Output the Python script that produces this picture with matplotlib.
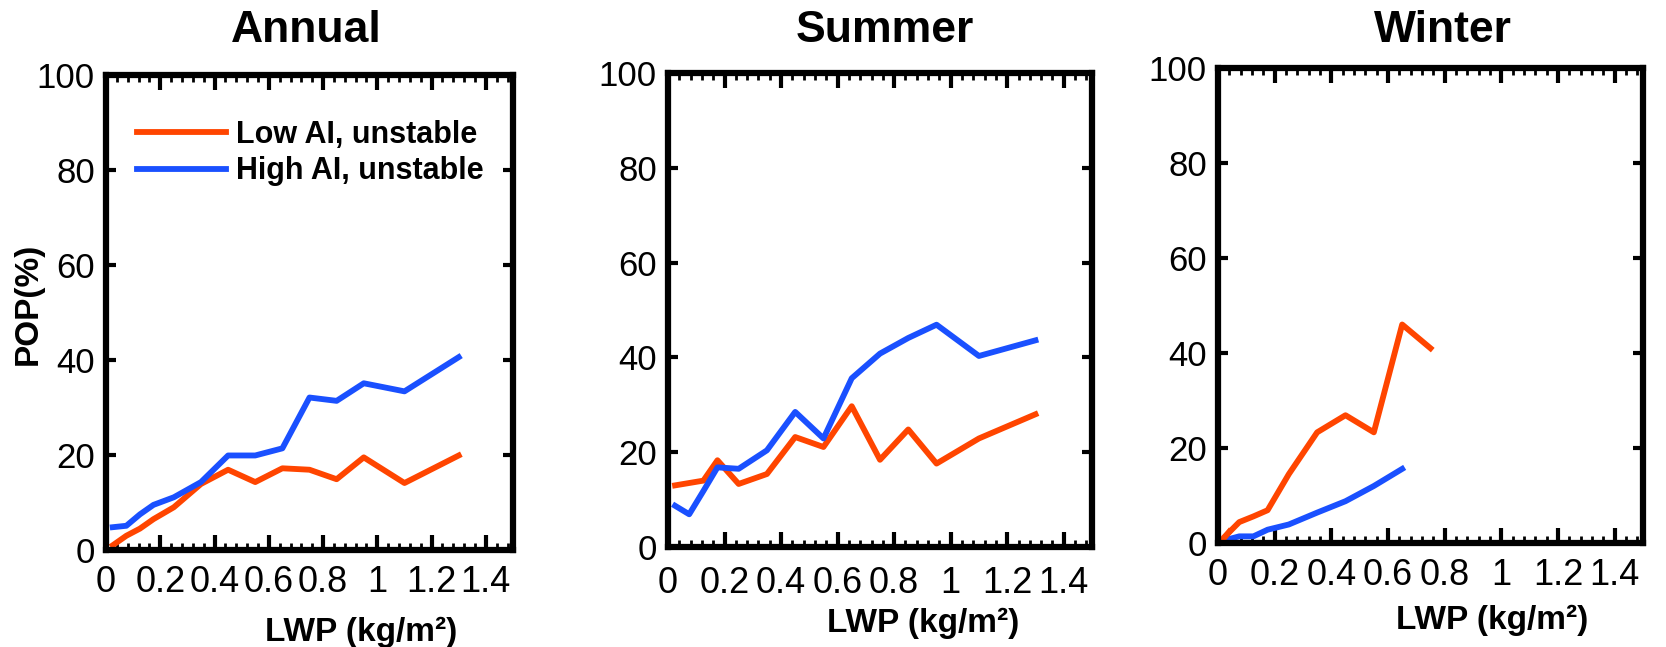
import numpy as np
import matplotlib
matplotlib.use("Agg")
import matplotlib.pyplot as plt
from matplotlib.ticker import MultipleLocator

plt.rcParams["font.family"] = ["Liberation Sans", "DejaVu Sans"]

# LWP bin centres (kg/m2)
lwp = [0.025, 0.075, 0.125, 0.175, 0.25, 0.35, 0.45, 0.55, 0.65, 0.75, 0.85, 0.95, 1.1, 1.3]

# POP (%)
annual_low = [1.0, 3.0, 4.5, 6.5, 9.0, 13.9, 16.9, 14.3, 17.2, 16.9, 14.9, 19.5, 14.1, 19.9]
annual_high = [4.8, 5.1, 7.5, 9.5, 11.1, 14.3, 19.9, 19.9, 21.4, 32.1, 31.4, 35.1, 33.4, 40.6]

summer_low = [13.0, 13.5, 14.0, 18.3, 13.3, 15.4, 23.2, 21.1, 29.7, 18.4, 24.8, 17.6, 22.9, 28.0]
summer_high = [8.7, 6.9, 11.8, 16.8, 16.5, 20.4, 28.5, 22.9, 35.6, 40.8, 44.1, 46.9, 40.3, 43.6]

winter_lwp_low = lwp[:10]
winter_low = [1.4, 4.4, 5.6, 6.9, 14.5, 23.3, 26.9, 23.3, 46.0, 41.0]
winter_lwp_high = lwp[:9]
winter_high = [0.6, 1.4, 1.4, 2.8, 3.9, 6.4, 8.8, 12.0, 15.6]

# short pieces drawn at the very bottom-left of some panels
stub_x = [0.008, 0.04]
stub_y = [0.0, 0.0]
winter_low_stub_x = [0.01, 0.04]
winter_low_stub_y = [0.2, 2.4]

titles = ["Annual", "Summer", "Winter"]
labels = ["Low AI, unstable", "High AI, unstable"]
c_low = "#ff4500"
c_high = "#1a50ff"

fig = plt.figure(figsize=(16.66, 6.47), dpi=100)
W, H = 1666, 647

# axes boxes in pixels: left, top, right, bottom
boxes = [(106, 75, 513, 550), (668, 73, 1092, 547), (1218, 68, 1643, 543)]
title_x = [306, 885, 1443]
xlab_pos = [(361, 641), (923, 632), (1492, 629)]
xpads = [11, 14, 11]

series = [
    (lwp, annual_low, lwp, annual_high, False, True),
    (lwp, summer_low, lwp, summer_high, False, False),
    (winter_lwp_low, winter_low, winter_lwp_high, winter_high, True, True),
]

axes = []
for i, (l, t, r, b) in enumerate(boxes):
    ax = fig.add_axes([l / W, 1 - b / H, (r - l) / W, (b - t) / H])
    axes.append(ax)
    xl, yl, xh, yh, low_stub, high_stub = series[i]

    ax.plot(xl, yl, color=c_low, lw=4.2, label=labels[0])
    ax.plot(xh, yh, color=c_high, lw=4.2, label=labels[1])
    if high_stub:
        ax.plot(stub_x, stub_y, color=c_high, lw=4.2)
    if low_stub:
        ax.plot(winter_low_stub_x, winter_low_stub_y, color=c_low, lw=4.2)

    ax.set_xlim(0, 1.5)
    ax.set_ylim(0, 100)
    ax.xaxis.set_minor_locator(MultipleLocator(0.04))
    ax.yaxis.set_major_locator(MultipleLocator(20))
    ax.set_xticks([0, 0.2, 0.4, 0.6, 0.8, 1.0, 1.2, 1.4])
    ax.set_xticklabels(["0", "0.2", "0.4", "0.6", "0.8", "1", "1.2", "1.4"])

    ax.tick_params(which="both", direction="in", top=True, right=True)
    ax.tick_params(axis="x", which="major", length=11, width=3, pad=xpads[i], labelsize=26)
    ax.tick_params(axis="x", which="minor", length=5, width=2)
    ax.tick_params(axis="y", which="major", length=7, width=3, pad=8, labelsize=25)
    for s in ax.spines.values():
        s.set_linewidth(4.5)

    fig.text(title_x[i] / W, 1 - 42 / H, titles[i], ha="center", va="baseline",
             fontsize=32, fontweight="bold")
    fig.text(xlab_pos[i][0] / W, 1 - xlab_pos[i][1] / H, "LWP (kg/m²)", ha="center",
             va="baseline", fontsize=24, fontweight="bold")

fig.text(28 / W, 1 - 304 / H, "POP(%)", rotation=90, ha="center", va="center",
         fontsize=24, fontweight="bold")

axes[0].legend(loc="upper left", bbox_to_anchor=(0.076, 0.905), frameon=False,
               prop={"size": 22, "weight": "bold"}, handlelength=2.9,
               handletextpad=0.35, labelspacing=0.2, borderpad=0, borderaxespad=0)

fig.savefig("out.png", dpi=100)
